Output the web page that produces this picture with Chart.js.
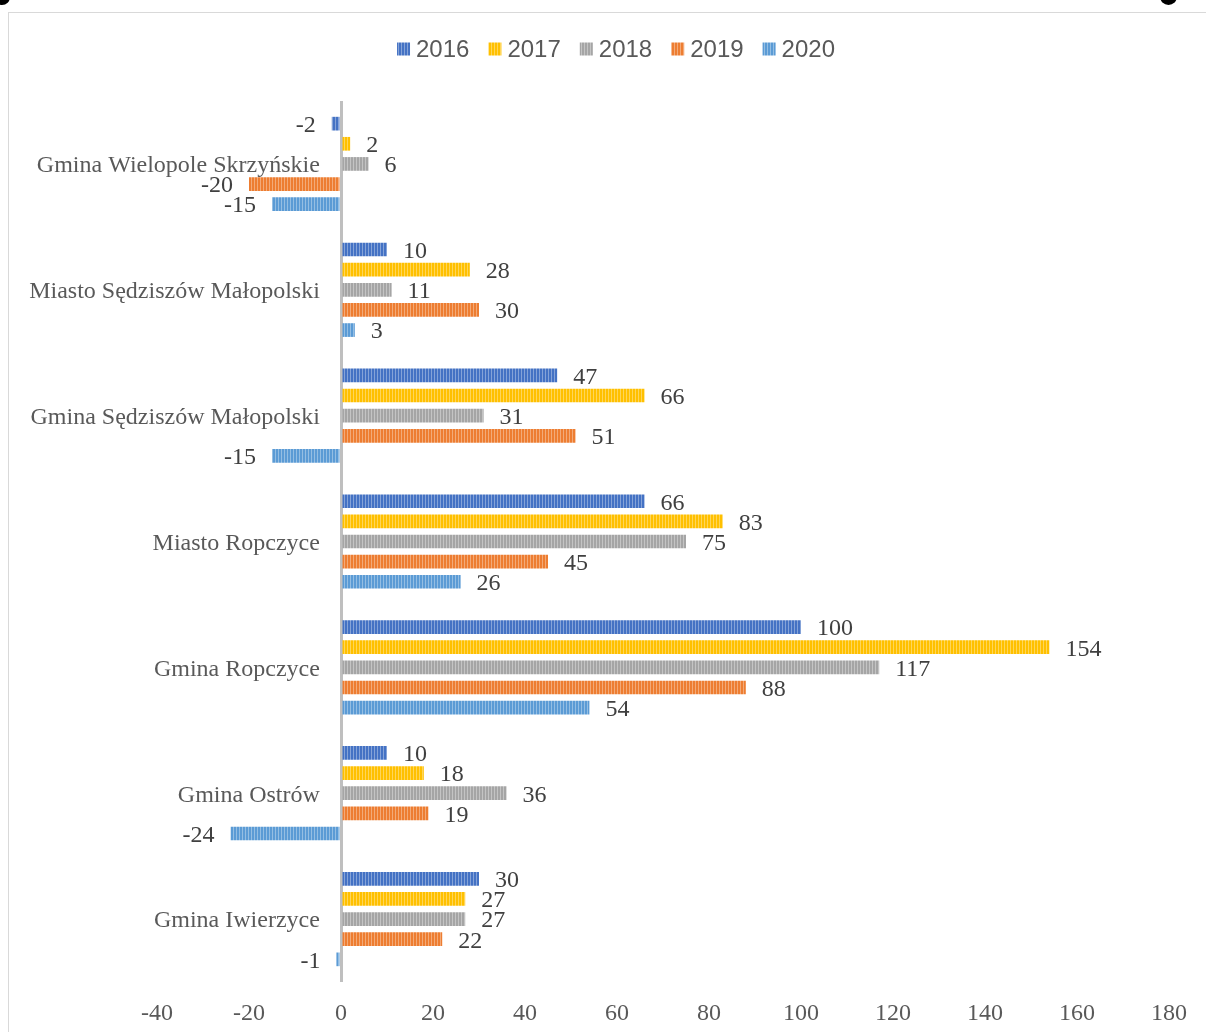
<!DOCTYPE html>
<html><head><meta charset="utf-8">
<script src="https://cdn.jsdelivr.net/npm/chart.js@4.4.1/dist/chart.umd.min.js"></script>
<style>
html,body{margin:0;padding:0;background:#fff;overflow:hidden;width:1206px;height:1032px;}
#frame{position:absolute;left:8px;top:12px;width:1300px;height:1100px;border:1px solid #d9d9d9;box-sizing:border-box;}
#wrap{position:absolute;left:0;top:0;width:1206px;height:1032px;}
.dot{position:absolute;background:#000;border-radius:50%;}
</style></head><body>
<div id="frame"></div>
<div id="wrap"><canvas id="c" width="1206" height="1032"></canvas></div>
<div class="dot" style="left:-6px;top:-11px;width:16px;height:16px"></div>
<div class="dot" style="left:1160px;top:-12px;width:17px;height:17px"></div>
<script>
const categories = ['Gmina Wielopole Skrzyńskie','Miasto Sędziszów Małopolski','Gmina Sędziszów Małopolski','Miasto Ropczyce','Gmina Ropczyce','Gmina Ostrów','Gmina Iwierzyce'];
const years = ['2016','2017','2018','2019','2020'];
const v2016 = [-2, 10, 47, 66, 100, 10, 30];
const v2017 = [2, 28, 66, 83, 154, 18, 27];
const v2018 = [6, 11, 31, 75, 117, 36, 27];
const v2019 = [-20, 30, 51, 45, 88, 19, 22];
const v2020 = [-15, 3, -15, 26, 54, -24, -1];
const xTicks = [-40, -20, 0, 20, 40, 60, 80, 100, 120, 140, 160, 180];
const seriesColors = ['#4472C4', '#FFC000', '#A5A5A5', '#ED7D31', '#5B9BD5'];

function stripe(base){
  const c = document.createElement('canvas'); c.width = 3; c.height = 1;
  const g = c.getContext('2d');
  g.fillStyle = base; g.fillRect(0,0,3,1);
  g.fillStyle = 'rgba(255,255,255,0.35)'; g.fillRect(2,0,1,1);
  return g.createPattern(c, 'repeat');
}

const allValues = [v2016, v2017, v2018, v2019, v2020];
const datasets = years.map((y, i) => ({
  label: y,
  data: allValues[i],
  backgroundColor: stripe(seriesColors[i]),
  borderWidth: 0,
  categoryPercentage: 0.8,
  barPercentage: 0.68
}));

const SERIF = '"Liberation Serif", "Times New Roman", serif';
const SANS = '"Liberation Sans", Arial, sans-serif';

const valueLabels = {
  id: 'valueLabels',
  afterDatasetsDraw(chart){
    const ctx = chart.ctx; ctx.save();
    ctx.font = '24px ' + SERIF; ctx.fillStyle = '#404040'; ctx.textBaseline = 'middle';
    chart.data.datasets.forEach((ds, i) => {
      const meta = chart.getDatasetMeta(i);
      meta.data.forEach((bar, j) => {
        const v = ds.data[j];
        if (v >= 0) { ctx.textAlign = 'left'; ctx.fillText(String(v), bar.x + 16, bar.y + 2); }
        else { ctx.textAlign = 'right'; ctx.fillText(String(v), bar.x - 16, bar.y + 2); }
      });
    });
    ctx.restore();
  }
};

const customLegend = {
  id: 'customLegend',
  afterDraw(chart){
    const ctx = chart.ctx; ctx.save();
    ctx.font = '24px ' + SANS; ctx.textBaseline = 'middle'; ctx.textAlign = 'left';
    const box = 13, gap = 6, sep = 19, cy = 49;
    const items = chart.data.datasets.map(ds => ({label: ds.label, fill: ds.backgroundColor, w: ctx.measureText(ds.label).width}));
    let total = items.reduce((s, it) => s + box + gap + it.w, 0) + sep * (items.length - 1);
    let x = 616 - total / 2;
    items.forEach(it => {
      ctx.fillStyle = it.fill; ctx.fillRect(x, cy - 6.5, box, box);
      ctx.fillStyle = '#595959'; ctx.fillText(it.label, x + box + gap, cy + 1);
      x += box + gap + it.w + sep;
    });
    ctx.restore();
  }
};

new Chart(document.getElementById('c'), {
  type: 'bar',
  data: { labels: categories, datasets: datasets },
  options: {
    indexAxis: 'y',
    responsive: false,
    animation: false,
    devicePixelRatio: 1,
    layout: { padding: { left: 157, right: 37, top: 101, bottom: 0 } },
    plugins: { legend: { display: false }, tooltip: { enabled: false } },
    scales: {
      x: {
        type: 'linear', min: xTicks[0], max: xTicks[xTicks.length - 1], z: 1,
        afterBuildTicks: s => { s.ticks = xTicks.map(v => ({value: v})); },
        afterFit: s => { s.height = 50; },
        ticks: { font: { family: SERIF, size: 24 }, color: '#595959', padding: 17, callback: v => String(v) },
        grid: { color: c => (c.tick && c.tick.value === 0) ? '#bfbfbf' : 'rgba(0,0,0,0)', lineWidth: 3, drawTicks: false },
        border: { display: false }
      },
      y: {
        type: 'category',
        position: { x: -4.6 },
        grid: { display: false, drawTicks: false },
        border: { display: false },
        ticks: { font: { family: SERIF, size: 24 }, color: '#595959', padding: 0, labelOffset: 2 }
      }
    }
  },
  plugins: [valueLabels, customLegend]
});
</script>
</body></html>
